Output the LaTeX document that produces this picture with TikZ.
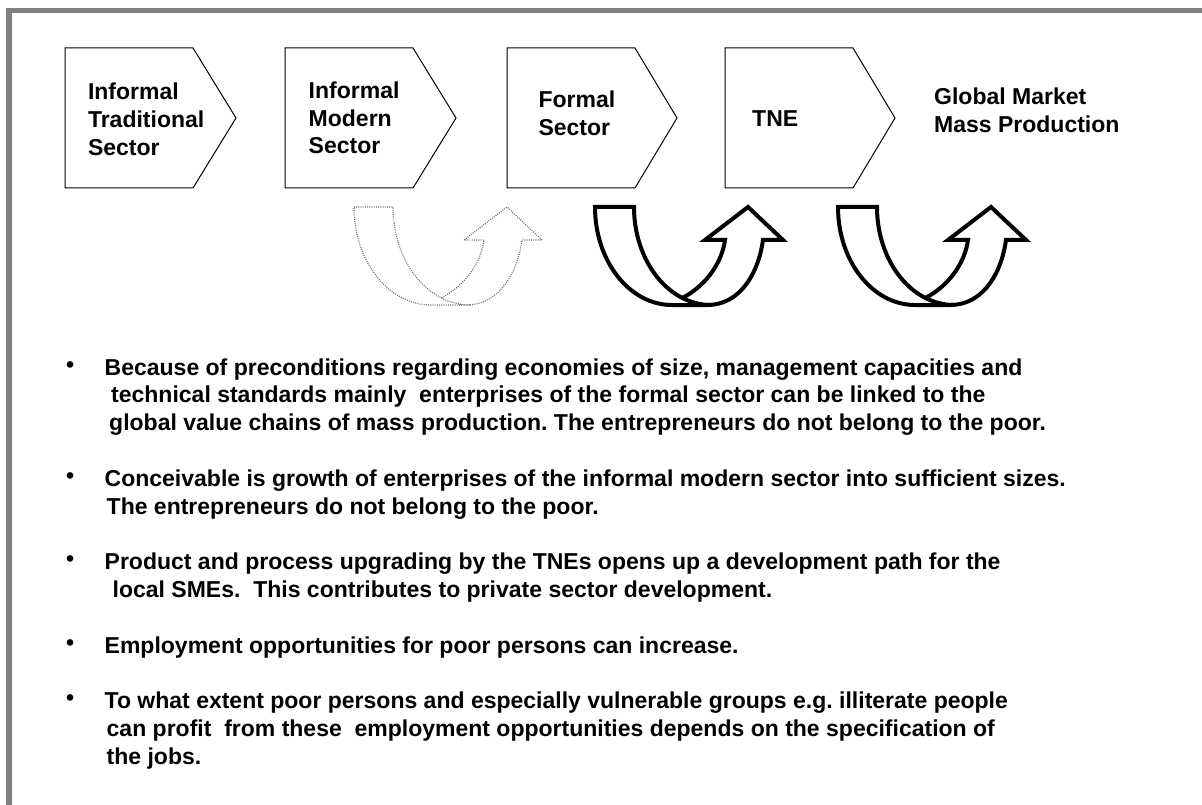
\documentclass[tikz,border=0pt]{standalone}
\usepackage{fontspec}
\setmainfont{Liberation Sans}
\begin{document}
\frenchspacing
\begin{tikzpicture}[x=1pt,y=-1pt,
  chev/.style={draw=black, line width=1pt, line join=miter},
  lbl/.style={anchor=base west, inner sep=0pt, font=\fontsize{23}{27.8}\selectfont\bfseries},
  bul/.style={anchor=base west, inner sep=0pt, font=\fontsize{23}{27.8}\selectfont\bfseries},
  solidU/.style={draw=black, line width=4pt, line join=miter},
  dotU/.style={draw=black!60, line width=1.2pt, dash pattern=on 0.9pt off 1.3pt},
  frameline/.style={draw=black!50, line width=5.5pt},
  uarrow/.pic={
    \draw[pic actions] (0,0) -- (39,0)
      arc[start angle=180, end angle=111.8, x radius=77, y radius=98] coordinate (-m)
      .. controls (112,78) and (127,55) .. (130,33) -- (110,33) -- (153,0) -- (188,33) -- (168,33)
      .. controls (164,63) and (147,98) .. (112,98) -- (77,98)
      arc[start angle=90, end angle=180, x radius=77, y radius=98] -- cycle;
    \draw[pic actions] (-m) arc[start angle=111.8, end angle=90, x radius=77, y radius=98];
  }]
\useasboundingbox (0,0) rectangle (1202,805);
\draw[frameline] (8.8,806) -- (8.8,10.6) -- (1203,10.6);

% chevrons
\draw[chev] (65,48) -- (193,48) -- (236,118) -- (193,188) -- (65,188) -- cycle;
\draw[chev] (285,48) -- (413,48) -- (456,118) -- (413,188) -- (285,188) -- cycle;
\draw[chev] (507,48) -- (635,48) -- (677,118) -- (635,188) -- (507,188) -- cycle;
\draw[chev] (725,48) -- (853,48) -- (895,118) -- (853,188) -- (725,188) -- cycle;

% chevron labels
\node[lbl] (t1a) at (87.8,100) {Informal};
\node[lbl] (t1b) at (87.8,128) {Traditional};
\node[lbl] (t1c) at (87.8,156) {Sector};
\node[lbl] (t2a) at (308.5,99) {Informal};
\node[lbl] (t2b) at (308.5,126.5) {Modern};
\node[lbl] (t2c) at (308.5,154) {Sector};
\node[lbl] (t3a) at (538.3,108) {Formal};
\node[lbl] (t3b) at (538.3,136) {Sector};
\node[lbl] (t4) at (752,127) {TNE};
\node[lbl] (t5a) at (934,105) {Global Market};
\node[lbl] (t5b) at (934,133) {Mass Production};

% U-turn arrows
\pic[dotU] (ua1) at (354,207) {uarrow};
\pic[solidU] (ua2) at (595,207) {uarrow};
\pic[solidU] (ua3) at (838,207) {uarrow};

% bullets
\node[bul] (b1) at (66,372) {•};
\node[bul] (b2) at (66,483.2) {•};
\node[bul] (b3) at (66,566.6) {•};
\node[bul] (b4) at (66,650) {•};
\node[bul] (b5) at (66,705.6) {•};

% bullet texts
\node[lbl] (l1a) at (104.5,375) {Because of preconditions regarding economies of size, management capacities and};
\node[lbl] (l1b) at (111,402.8) {technical standards mainly~ enterprises of the formal sector can be linked to the};
\node[lbl] (l1c) at (109,430.6) {global value chains of mass production. The entrepreneurs do not belong to the poor.};
\node[lbl] (l2a) at (104.5,486.2) {Conceivable is growth of enterprises of the informal modern sector into sufficient sizes.};
\node[lbl] (l2b) at (106.5,514) {The entrepreneurs do not belong to the poor.};
\node[lbl] (l3a) at (104.5,569.6) {Product and process upgrading by the TNEs opens up a development path for the};
\node[lbl] (l3b) at (112.5,597.4) {local SMEs.~ This contributes to private sector development.};
\node[lbl] (l4a) at (104.5,653) {Employment opportunities for poor persons can increase.};
\node[lbl] (l5a) at (104.5,708.6) {To what extent poor persons and especially vulnerable groups e.g. illiterate people};
\node[lbl] (l5b) at (106.5,736.4) {can profit~ from these~ employment opportunities depends on the specification of};
\node[lbl] (l5c) at (106.5,764.2) {the jobs.};
\end{tikzpicture}
\end{document}
